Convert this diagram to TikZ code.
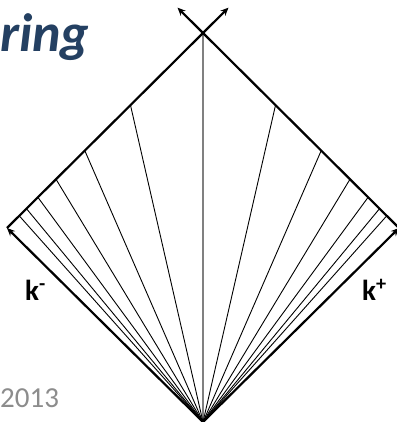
\documentclass[tikz,border=0pt]{standalone}
\usepackage{fontspec}
\setmainfont{Carlito}
\usepackage{tikz}
\usetikzlibrary{arrows.meta, calc, positioning}

\definecolor{titleblue}{HTML}{244062}
\definecolor{dategray}{HTML}{8C8C8C}

\tikzset{
    edge/.style={line width=2.2pt, black},
    fan/.style={line width=0.9pt, black},
    lbl/.style={font=\fontsize{29}{31}\selectfont\bfseries, inner sep=0pt}
}

\begin{document}
\begin{tikzpicture}[x=1pt, y=-1pt, >={Stealth[length=8pt,width=7pt]}]
    \useasboundingbox (0,0) rectangle (396,422);

    % Corners of the cone
    \coordinate (bot) at (203,422);
    \coordinate (top) at (203,33);
    \coordinate (lft) at (7,228);
    \coordinate (rgt) at (399,228);

    % Title and date
    \node[anchor=base west, inner sep=0pt, text=titleblue, font=\fontsize{54}{56}\selectfont\bfseries\itshape] (title) at (0,52) {ring};
    \node[anchor=base west, inner sep=0pt, text=dategray, font=\fontsize{29}{31}\selectfont] (date) at (0,407) {2013};

    % Fan of lines from the bottom tip
    \draw[line width=1.1pt, gray] (bot) -- (top);
    \foreach \n in {1,...,6} {
        \pgfmathsetmacro{\f}{1-0.63^\n}
        \draw[fan] (bot) -- ($(top)!\f!(lft)$);
        \draw[fan] (bot) -- ($(top)!\f!(rgt)$);
    }

    % Edges with arrows
    \draw[edge, ->] (bot) -- (lft);
    \draw[edge, ->] (bot) -- (rgt);
    \draw[edge, ->] (lft) -- ($(lft)!1.13!(top)$);
    \draw[edge, ->] (rgt) -- ($(rgt)!1.13!(top)$);

    % Labels
    \node[lbl, anchor=base west] (kminus) at (25,300) {k\textsuperscript{-}};
    \node[lbl, anchor=base west] (kplus) at (362,300) {k\textsuperscript{+}};
\end{tikzpicture}
\end{document}
